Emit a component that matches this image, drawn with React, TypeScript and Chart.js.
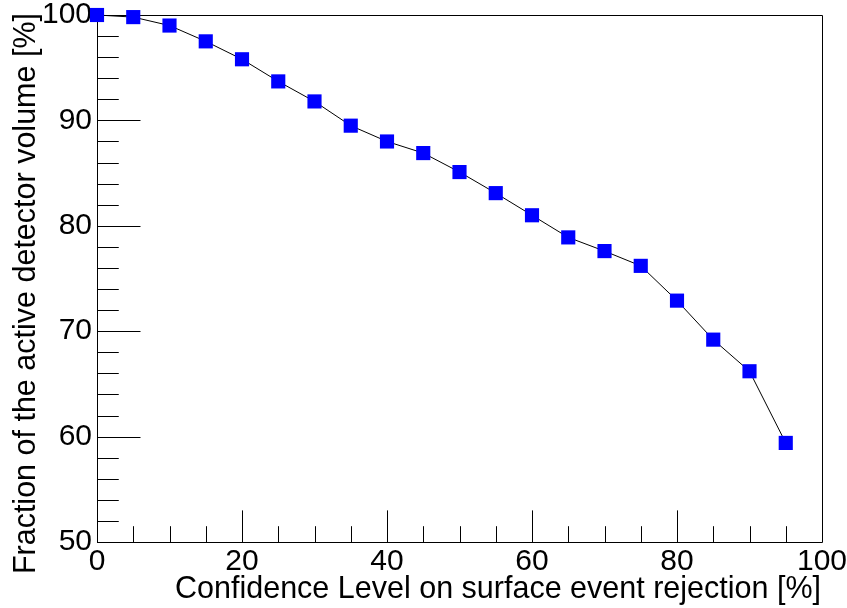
import React, { useEffect, useRef } from "react";
import { Chart, registerables } from "chart.js";

Chart.register(...registerables);

// ---- data ----
const xValues = [0, 5, 10, 15, 20, 25, 30, 35, 40, 45, 50, 55, 60, 65, 70, 75, 80, 85, 90, 95];
const yValues = [100, 99.8, 99.0, 97.5, 95.8, 93.7, 91.8, 89.5, 88.0, 86.9, 85.1, 83.1, 81.0, 78.9, 77.6, 76.2, 72.9, 69.2, 66.2, 59.4];
const xTickLabels = [0, 20, 40, 60, 80, 100];
const yTickLabels = [50, 60, 70, 80, 90, 100];
const xMinorStep = 5;
const yMinorStep = 2;
const xTitle = "Confidence Level on surface event rejection [%]";
const yTitle = "Fraction of the active detector volume [%]";

const FONT = "'Liberation Sans', Arial, Helvetica, sans-serif";

const rootFramePlugin = {
  id: "rootFrame",
  beforeDatasetsDraw(chart: any) {
    const ctx = chart.ctx;
    const area = chart.chartArea;
    const xs = chart.scales.x;
    const ys = chart.scales.y;
    ctx.save();
    ctx.strokeStyle = "#000";
    ctx.lineWidth = 1;
    // frame
    ctx.beginPath();
    ctx.rect(Math.round(area.left) + 0.5, Math.round(area.top) + 0.5,
      Math.round(area.right - area.left), Math.round(area.bottom - area.top));
    ctx.stroke();

    const w = area.right - area.left;
    const h = area.bottom - area.top;
    const yMajorLen = w * 0.06;
    const xMajorLen = h * 0.06;

    // y ticks
    ctx.beginPath();
    for (let v = ys.min; v <= ys.max + 1e-9; v += yMinorStep) {
      const py = Math.round(ys.getPixelForValue(v)) + 0.5;
      const major = yTickLabels.some((t) => Math.abs(t - v) < 1e-6);
      const len = major ? yMajorLen : yMajorLen / 2;
      ctx.moveTo(area.left, py);
      ctx.lineTo(area.left + len, py);
    }
    // x ticks
    for (let v = xs.min; v <= xs.max + 1e-9; v += xMinorStep) {
      const px = Math.round(xs.getPixelForValue(v)) + 0.5;
      const major = xTickLabels.some((t) => Math.abs(t - v) < 1e-6);
      const len = major ? xMajorLen : xMajorLen / 2;
      ctx.moveTo(px, area.bottom);
      ctx.lineTo(px, area.bottom - len);
    }
    ctx.stroke();

    // titles
    ctx.fillStyle = "#000";
    ctx.font = `30.5px ${FONT}`;
    ctx.textBaseline = "alphabetic";
    ctx.textAlign = "right";
    ctx.fillText(xTitle, area.right - 1, 598);

    ctx.translate(35, 13);
    ctx.rotate(-Math.PI / 2);
    ctx.textAlign = "right";
    ctx.fillText(yTitle, 0, 0);
    ctx.restore();
  },
};

export default function App() {
  const canvasRef = useRef<HTMLCanvasElement | null>(null);

  useEffect(() => {
    if (!canvasRef.current) return;
    const chart = new Chart(canvasRef.current, {
      type: "scatter",
      data: {
        datasets: [
          {
            data: xValues.map((x, i) => ({ x, y: yValues[i] })),
            showLine: true,
            clip: false,
            borderColor: "#000",
            borderWidth: 1,
            tension: 0,
            pointStyle: "rect",
            pointRadius: 10,
            pointHoverRadius: 10,
            pointBackgroundColor: "#0000ff",
            pointBorderColor: "#0000ff",
            pointBorderWidth: 0,
          },
        ],
      },
      options: {
        animation: false,
        responsive: false,
        events: [],
        layout: { padding: { top: 15, right: 25, left: 0, bottom: 0 } },
        plugins: {
          legend: { display: false },
          tooltip: { enabled: false },
        },
        scales: {
          x: {
            type: "linear",
            min: 0,
            max: 100,
            afterBuildTicks: (s: any) => {
              s.ticks = xTickLabels.map((v) => ({ value: v }));
            },
            afterFit: (s: any) => {
              s.height = 66;
              s.paddingLeft = 0;
              s.paddingRight = 0;
            },
            grid: { display: false, drawTicks: false },
            border: { display: false },
            ticks: {
              font: { family: FONT, size: 30 },
              color: "#000",
              padding: 2,
              maxRotation: 0,
              autoSkip: false,
            },
          },
          y: {
            type: "linear",
            min: 50,
            max: 100,
            afterBuildTicks: (s: any) => {
              s.ticks = yTickLabels.map((v) => ({ value: v }));
            },
            afterFit: (s: any) => {
              s.width = 97;
              s.paddingTop = 0;
              s.paddingBottom = 0;
            },
            grid: { display: false, drawTicks: false },
            border: { display: false },
            ticks: {
              font: { family: FONT, size: 30 },
              color: "#000",
              padding: 5,
              autoSkip: false,
            },
          },
        },
      },
      plugins: [rootFramePlugin],
    });
    return () => chart.destroy();
  }, []);

  return (
    <div style={{ position: "fixed", left: 0, top: 0, width: 847, height: 608, background: "#fff" }}>
      <canvas ref={canvasRef} width={847} height={608} style={{ display: "block" }} />
    </div>
  );
}
